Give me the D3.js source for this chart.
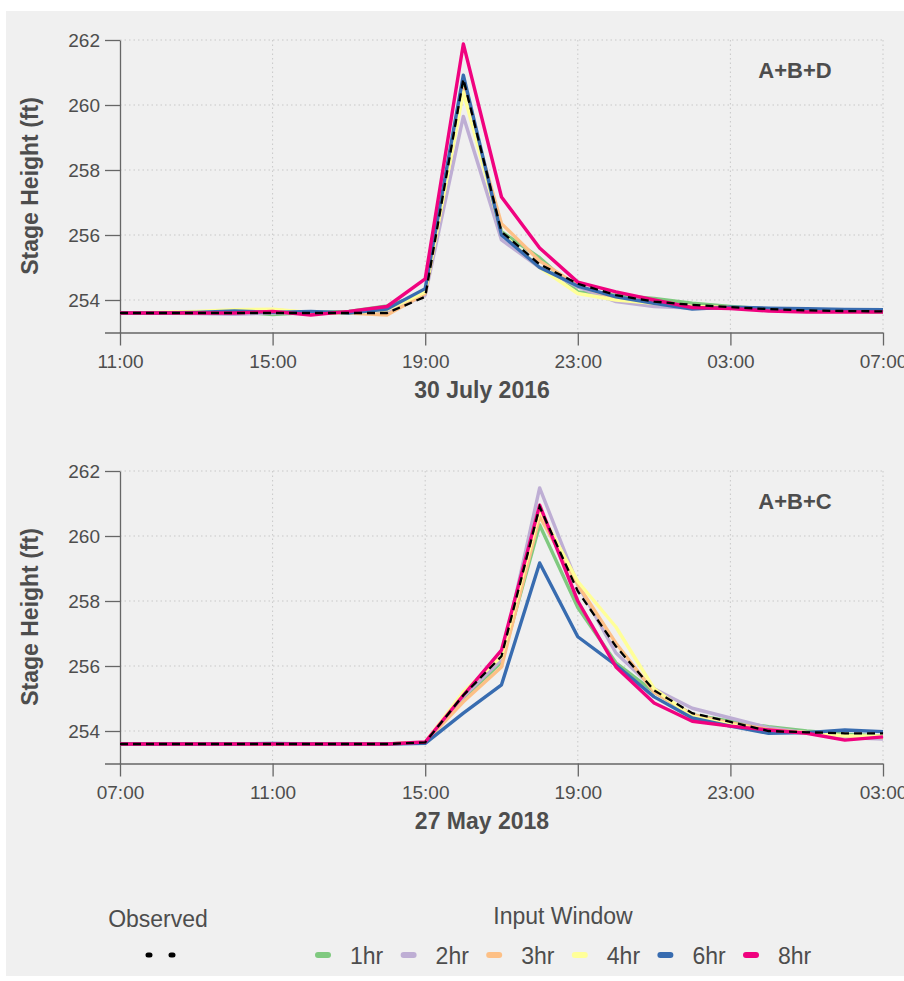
<!DOCTYPE html>
<html>
<head>
<meta charset="utf-8">
<script src="https://cdn.jsdelivr.net/npm/d3@7"></script>
<style>
  body { margin: 0; background: #fff; }
  text { font-family: "Liberation Sans", Arial, sans-serif; }
</style>
</head>
<body>
<div id="chart"></div>
<script>
// hourly values, panel 1: 30 July 2016 11:00 -> 31 July 07:00
const obsA = [253.6,253.6,253.6,253.6,253.6,253.6,253.6,253.6,254.1,260.8,256.1,255.1,254.5,254.15,253.95,253.85,253.78,253.72,253.68,253.66,253.65]
const h1A = [253.6,253.6,253.62,253.65,253.55,253.62,253.65,253.82,254.2,260.6,256.1,255.3,254.25,254.15,254.05,253.9,253.8,253.72,253.68,253.66,253.63]
const h2A = [253.6,253.6,253.58,253.56,253.6,253.62,253.6,253.62,254.15,259.65,255.85,255.0,254.4,253.95,253.8,253.75,253.75,253.7,253.68,253.66,253.65]
const h3A = [253.6,253.6,253.62,253.66,253.7,253.6,253.6,253.54,254.2,260.5,256.35,255.2,254.45,254.05,253.9,253.8,253.76,253.7,253.67,253.66,253.65]
const h4A = [253.6,253.62,253.65,253.7,253.72,253.62,253.6,253.7,254.25,260.4,256.05,255.0,254.2,254.0,253.9,253.8,253.76,253.7,253.67,253.66,253.65]
const h6A = [253.6,253.6,253.62,253.66,253.62,253.65,253.6,253.72,254.35,260.92,256.0,255.0,254.43,254.1,253.9,253.72,253.78,253.75,253.73,253.71,253.7]
const h8A = [253.6,253.6,253.6,253.6,253.65,253.54,253.65,253.8,254.65,261.88,257.17,255.6,254.55,254.25,254.0,253.77,253.74,253.66,253.63,253.63,253.63]

// panel 2: 27 May 2018 07:00 -> 28 May 03:00
const obsB = [253.6,253.6,253.6,253.6,253.6,253.6,253.6,253.6,253.65,255.1,256.3,260.9,258.3,256.6,255.25,254.55,254.28,254.0,253.96,253.93,253.93]
const h1B = [253.6,253.6,253.6,253.6,253.6,253.6,253.6,253.6,253.65,255.0,256.12,260.34,257.8,256.1,255.2,254.5,254.3,254.13,254.0,253.9,253.85]
const h2B = [253.6,253.6,253.6,253.6,253.6,253.6,253.6,253.6,253.65,255.05,256.2,261.48,258.5,256.4,255.3,254.7,254.4,254.1,253.95,253.8,253.75]
const h3B = [253.6,253.6,253.6,253.6,253.6,253.6,253.6,253.6,253.65,254.9,255.97,260.6,258.5,256.7,255.2,254.5,254.25,254.05,253.95,253.85,253.8]
const h4B = [253.6,253.6,253.6,253.6,253.6,253.6,253.6,253.6,253.65,255.2,256.3,260.8,258.6,257.2,255.3,254.45,254.2,254.0,253.95,253.85,253.85]
const h6B = [253.6,253.6,253.6,253.6,253.62,253.6,253.6,253.6,253.62,254.55,255.42,259.17,256.9,256.03,255.05,254.4,254.15,253.93,253.95,254.03,253.98]
const h8B = [253.6,253.6,253.6,253.6,253.6,253.6,253.6,253.6,253.66,255.1,256.49,260.95,258.0,255.97,254.86,254.3,254.15,254.03,253.93,253.72,253.82]

const windows = ["1hr", "2hr", "3hr", "4hr", "6hr", "8hr"]
const colors = ["#7fc97f", "#beaed4", "#fdc086", "#ffff99", "#386cb0", "#f0027f"]
const yTicks = [254, 256, 258, 260, 262]

const panels = [
  { start: new Date(2016, 6, 30, 11), title: "30 July 2016", tag: "A+B+D", top: 40,
    series: [h1A, h2A, h3A, h4A, h6A, h8A], obs: obsA },
  { start: new Date(2018, 4, 27, 7), title: "27 May 2018", tag: "A+B+C", top: 471,
    series: [h1B, h2B, h3B, h4B, h6B, h8B], obs: obsB }
]

const width = 904
const height = 981
const left = 120
const right = 883
const iheight = 292.5
const textColor = "#4d4d4d"
const axisColor = "#666"

const svg = d3.select("#chart").append("svg")
  .attr("width", width)
  .attr("height", height)

svg.append("rect")
  .attr("x", 6).attr("y", 11)
  .attr("width", width - 6).attr("height", 965)
  .attr("fill", "#f0f0f0")

panels.forEach(p => {
  const end = d3.timeHour.offset(p.start, 20)
  const hours = d3.timeHour.range(p.start, d3.timeHour.offset(end, 1))

  const x = d3.scaleTime().domain([p.start, end]).range([left, right])
  const y = d3.scaleLinear().domain([253, 262]).range([p.top + iheight, p.top])
  const xTicks = d3.timeHour.range(p.start, d3.timeHour.offset(end, 1), 4)

  const g = svg.append("g")

  // grid
  g.append("g")
    .selectAll("line")
    .data(yTicks)
    .join("line")
    .attr("x1", left).attr("x2", right)
    .attr("y1", d => y(d)).attr("y2", d => y(d))
    .attr("stroke", "#c8c8c8")
    .attr("stroke-dasharray", "1.5,3")
  g.append("g")
    .selectAll("line")
    .data(xTicks.slice(1))
    .join("line")
    .attr("x1", d => x(d)).attr("x2", d => x(d))
    .attr("y1", y(262)).attr("y2", y(253))
    .attr("stroke", "#c8c8c8")
    .attr("stroke-dasharray", "1.5,3")

  // axes
  const xAxis = g.append("g")
    .attr("transform", `translate(0, ${y(253)})`)
    .call(d3.axisBottom(x).tickValues(xTicks).tickFormat(d3.timeFormat("%H:%M")).tickSize(13).tickSizeOuter(0))
  xAxis.select(".domain").attr("d", `M${left - 15},0.5H${right}`)

  const yAxis = g.append("g")
    .attr("transform", `translate(${left}, 0)`)
    .call(d3.axisLeft(y).tickValues(yTicks).tickSize(15).tickSizeOuter(0))

  ;[xAxis, yAxis].forEach(a => {
    a.selectAll(".domain").attr("stroke", axisColor).attr("stroke-width", 1.3)
    a.selectAll(".tick line").attr("stroke", axisColor).attr("stroke-width", 1.3)
    a.selectAll("text").attr("fill", textColor).attr("font-size", 19)
      .attr("font-family", "'Liberation Sans', Arial, sans-serif")
  })
  xAxis.selectAll("text").attr("y", 22).attr("dy", "0.71em")
  yAxis.selectAll("text").attr("x", -20)

  // titles
  g.append("text")
    .attr("x", 482)
    .attr("y", y(253) + 65)
    .attr("text-anchor", "middle")
    .attr("font-size", 23).attr("font-weight", "bold")
    .attr("fill", textColor)
    .text(p.title)
  g.append("text")
    .attr("transform", `translate(38, ${p.top + 146}) rotate(-90)`)
    .attr("text-anchor", "middle")
    .attr("font-size", 23).attr("font-weight", "bold")
    .attr("fill", textColor)
    .text("Stage Height (ft)")
  g.append("text")
    .attr("x", 795).attr("y", p.top + 38)
    .attr("text-anchor", "middle")
    .attr("font-size", 22).attr("font-weight", "bold")
    .attr("fill", textColor)
    .text(p.tag)

  const line = d3.line()
    .x((d, i) => x(hours[i]))
    .y(d => y(d))

  g.append("g")
    .selectAll("path")
    .data(p.series)
    .join("path")
    .attr("d", line)
    .attr("fill", "none")
    .attr("stroke", (d, i) => colors[i])
    .attr("stroke-width", 3.4)
    .attr("stroke-linejoin", "round")

  g.append("path")
    .attr("d", line(p.obs))
    .attr("fill", "none")
    .attr("stroke", "#000")
    .attr("stroke-width", 2.3)
    .attr("stroke-dasharray", "8,5")
})

// legend
const leg = svg.append("g")
leg.append("text")
  .attr("x", 158).attr("y", 927)
  .attr("text-anchor", "middle")
  .attr("font-size", 23).attr("fill", textColor)
  .text("Observed")
leg.append("line")
  .attr("x1", 148).attr("x2", 173)
  .attr("y1", 955).attr("y2", 955)
  .attr("stroke", "#000")
  .attr("stroke-width", 5)
  .attr("stroke-linecap", "round")
  .attr("stroke-dasharray", "2,21")
leg.append("text")
  .attr("x", 563).attr("y", 924)
  .attr("text-anchor", "middle")
  .attr("font-size", 23).attr("fill", textColor)
  .text("Input Window")

const lx = d3.scalePoint().domain(windows).range([323, 751])
const item = leg.selectAll("g.item")
  .data(windows)
  .join("g")
  .attr("class", "item")
  .attr("transform", d => `translate(${lx(d)}, 955)`)
item.append("line")
  .attr("x1", -5).attr("x2", 5)
  .attr("stroke", (d, i) => colors[i])
  .attr("stroke-width", 6)
  .attr("stroke-linecap", "round")
item.append("text")
  .attr("x", 27).attr("y", 9)
  .attr("font-size", 23).attr("fill", textColor)
  .text(d => d)
</script>
</body>
</html>
